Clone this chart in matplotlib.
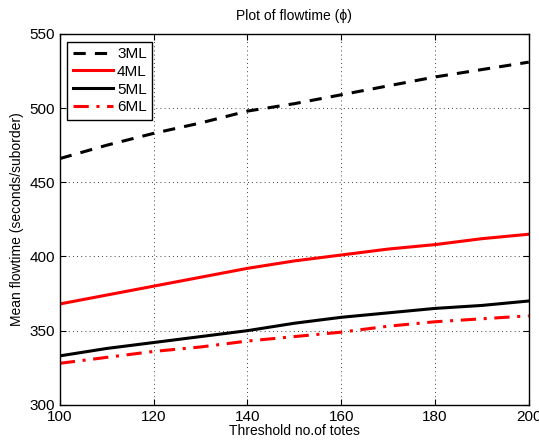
import matplotlib
matplotlib.use("Agg")
import matplotlib.pyplot as plt

plt.rcParams['font.family'] = ['Liberation Sans', 'DejaVu Sans']

threshold = [100, 110, 120, 130, 140, 150, 160, 170, 180, 190, 200]
ml3 = [466, 475, 483, 490, 498, 503, 509, 515, 521, 526, 531]
ml4 = [368, 374, 380, 386, 392, 397, 401, 405, 408, 412, 415]
ml5 = [333, 338, 342, 346, 350, 355, 359, 362, 365, 367, 370]
ml6 = [328, 332, 336, 339, 343, 346, 349, 353, 356, 358, 360]

fig = plt.figure(figsize=(5.39, 4.41), dpi=100)
ax = fig.add_axes([0.111, 0.082, 0.870, 0.841])

ax.plot(threshold, ml3, 'k--', lw=2.2, label='3ML', dashes=(4, 3))
ax.plot(threshold, ml4, 'r-', lw=2.2, label='4ML')
ax.plot(threshold, ml5, 'k-', lw=2.2, label='5ML')
ax.plot(threshold, ml6, 'r-.', lw=2.2, label='6ML', dashes=(5, 2.5, 1, 2.5))

ax.set_xlim(100, 200)
ax.set_ylim(300, 550)
ax.set_xticks(range(100, 201, 20))
ax.set_yticks(range(300, 551, 50))
ax.grid(True, color='black', linestyle=(0, (1, 4)), linewidth=0.6)
ax.tick_params(direction='in', top=True, right=True, labelsize=11, length=4)
for s in ax.spines.values():
    s.set_linewidth(1.0)

ax.set_title('Plot of flowtime (ϕ)', fontsize=10, pad=10)
ax.set_xlabel('Threshold no.of totes', fontsize=10, labelpad=0)
ax.set_ylabel('Mean flowtime (seconds/suborder)', fontsize=10)

leg = ax.legend(loc='upper left', fancybox=False, edgecolor='black',
                framealpha=1, fontsize=11, handlelength=2.6,
                borderaxespad=0.5, borderpad=0.35, labelspacing=0.25,
                handletextpad=0.3)
leg.get_frame().set_linewidth(1.0)

fig.savefig('out.png', dpi=100)
